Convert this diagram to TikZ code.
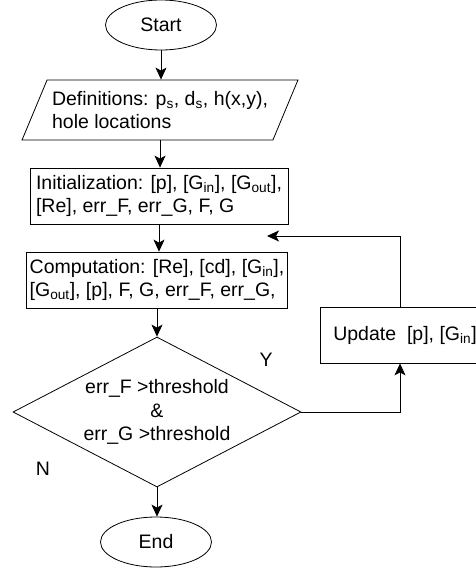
\documentclass[tikz,border=0pt]{standalone}
\usepackage{fontspec}
\setmainfont{Liberation Sans}
\usetikzlibrary{shapes.geometric, arrows.meta, positioning}

\begin{document}
\begin{tikzpicture} [x = 1pt, y = -1pt, line width = 0.8pt,
    font = \fontsize{19.5}{23.5}\selectfont,
    term/.style = {ellipse, draw, minimum width = 111pt, minimum height = 50pt},
    io/.style = {trapezium, draw, trapezium left angle = 61, trapezium right angle = 119,
        trapezium stretches, minimum width = 276pt, minimum height = 60pt, align = left},
    proc/.style = {rectangle, draw, minimum width = 258pt, minimum height = 56pt, align = left},
    decision/.style = {diamond, draw, aspect = 1.92, minimum width = 288pt,
        minimum height = 150pt, inner sep = 0pt, align = center},
    flow/.style = {-{Stealth[length = 12pt, width = 11pt, inset = 3pt]}}]
    \useasboundingbox (0,0) rectangle (476,573);
    \node (start) [term] at (161,25) {Start};
    \node (defs) [io] at (160,110) {Definitions: p\textsubscript{s}, d\textsubscript{s}, h(x,y),\\hole locations};
    \node (init) [proc] at (159,196) {Initialization: [p], [G\textsubscript{in}], [G\textsubscript{out}],\\{}[Re], err\_F, err\_G, F, G};
    \node (comp) [proc] at (157,280) {Computation: [Re], [cd], [G\textsubscript{in}],\\{}[G\textsubscript{out}], [p], F, G, err\_F, err\_G,};
    \node (cond) [decision] at (157,412) {err\_F >threshold\\\&\\err\_G >threshold};
    \node (stop) [term] at (156,542) {End};
    \node (upd) [proc, minimum width = 170pt] at (405,335) {Update\ \ [p], [G\textsubscript{in}]};
    \node (yes) at (266,360) {Y};
    \node (no) at (43,469) {N};
    \coordinate (back) at (267,236);
    \draw [flow] (start.south) -- (start.south |- defs.north);
    \draw [flow] (defs.south) -- (defs.south |- init.north);
    \draw [flow] (init.south) -- (init.south |- comp.north);
    \draw [flow] (comp.south) -- (cond.north);
    \draw [flow] (cond.south) -- (cond.south |- stop.north);
    \draw [flow] (cond.east) -| ([xshift = -5pt]upd.south);
    \draw [flow] ([xshift = -5pt]upd.north) |- (back);
\end{tikzpicture}
\end{document}
